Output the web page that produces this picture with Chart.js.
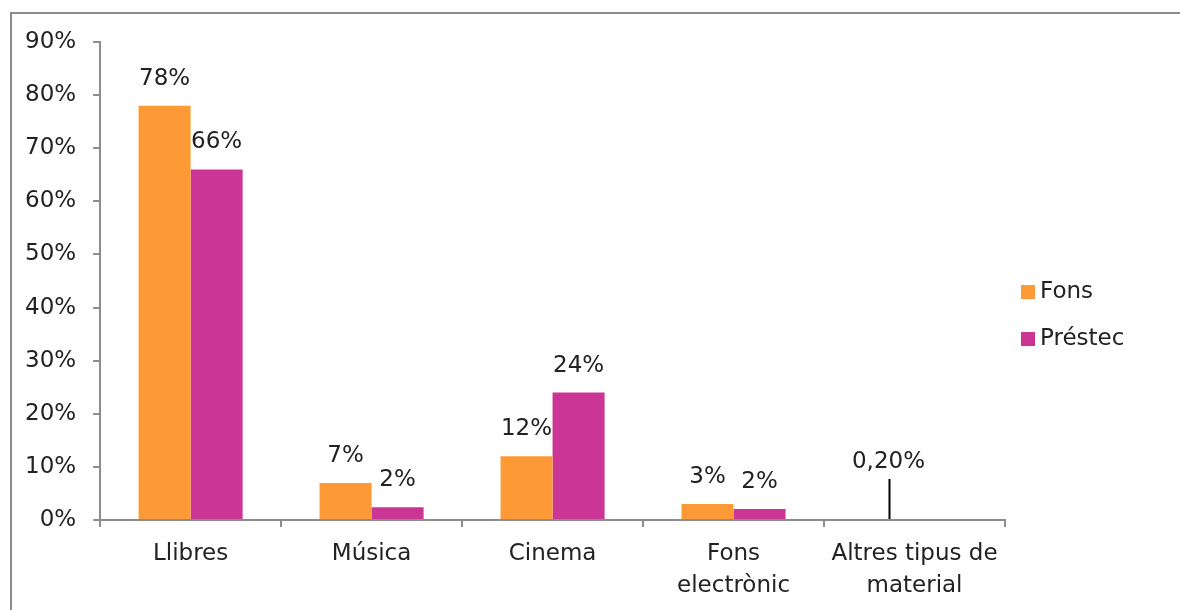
<!DOCTYPE html>
<html>
<head>
<meta charset="utf-8">
<script src="https://cdn.jsdelivr.net/npm/chart.js@4"></script>
<style>
  html, body { margin: 0; padding: 0; background: #fff; overflow: hidden; }
  #wrap { position: relative; width: 1180px; height: 610px; }
  #frame { position: absolute; left: 10px; top: 12px; width: 1200px; height: 700px; border: 2px solid #8c8c8c; box-sizing: border-box; }
  #chart { position: absolute; left: 0; top: 0; }
</style>
</head>
<body>
<div id="wrap">
  <div id="frame"></div>
  <canvas id="chart" width="1180" height="610"></canvas>
</div>
<script>
const categories = [['Llibres'], ['Música'], ['Cinema'], ['Fons', 'electrònic'], ['Altres tipus de', 'material']];
const fons = [78, 7, 12, 3, 0.2];
const prestec = [66, 2.4, 24, 2.1, null];
const fonsText = ['78%', '7%', '12%', '3%', '0,20%'];
const prestecText = ['66%', '2%', '24%', '2%', ''];
const yTicks = [0, 10, 20, 30, 40, 50, 60, 70, 80, 90];

const FONT = '"DejaVu Sans", sans-serif';
const TEXT = '#222';
const AXIS = '#8c8c8c';

// data labels above the bars (leader line for the tiny one) + legend on the right
const barLabels = {
    id: 'barLabels',
    afterDatasetsDraw(chart) {
        const ctx = chart.ctx;
        const texts = [fonsText, prestecText];
        ctx.save();
        ctx.font = '23px ' + FONT;
        ctx.fillStyle = TEXT;
        ctx.textAlign = 'center';
        ctx.textBaseline = 'middle';
        chart.data.datasets.forEach((ds, i) => {
            chart.getDatasetMeta(i).data.forEach((bar, j) => {
                const t = texts[i][j];
                if (!t || ds.data[j] == null) return;
                if (ds.data[j] < 1) {
                    ctx.fillText(t, bar.x, bar.y - 57);
                    ctx.strokeStyle = '#000';
                    ctx.lineWidth = 2;
                    ctx.beginPath();
                    ctx.moveTo(bar.x + 1, bar.y - 40);
                    ctx.lineTo(bar.x + 1, bar.y);
                    ctx.stroke();
                } else {
                    ctx.fillText(t, bar.x, bar.y - 27);
                }
            });
        });

        // legend
        const area = chart.chartArea;
        const lx = area.right + 16;
        let ly = (area.top + area.bottom) / 2 + 11;
        ctx.textAlign = 'left';
        chart.data.datasets.forEach(ds => {
            ctx.fillStyle = ds.backgroundColor;
            ctx.fillRect(lx, ly - 7, 14, 14);
            ctx.fillStyle = TEXT;
            ctx.fillText(ds.label, lx + 19, ly);
            ly += 47;
        });
        ctx.restore();
    }
};

new Chart(document.getElementById('chart'), {
    type: 'bar',
    data: {
        labels: categories,
        datasets: [
            { label: 'Fons', data: fons, backgroundColor: '#fd9a36' },
            { label: 'Préstec', data: prestec, backgroundColor: '#cb3595' }
        ]
    },
    options: {
        responsive: false,
        animation: false,
        layout: { padding: { top: 42, right: 175, bottom: -3, left: 8 } },
        datasets: { bar: { categoryPercentage: 0.575, barPercentage: 1 } },
        plugins: {
            legend: { display: false },
            tooltip: { enabled: false }
        },
        scales: {
            x: {
                grid: { display: true, drawOnChartArea: false, color: AXIS, lineWidth: 2, tickLength: 7 },
                border: { color: AXIS, width: 2 },
                ticks: { color: TEXT, font: { family: FONT, size: 23, lineHeight: 1.39 }, padding: 11, maxRotation: 0 }
            },
            y: {
                min: 0, max: 90,
                afterBuildTicks: axis => { axis.ticks = yTicks.map(v => ({ value: v })); },
                grid: { display: true, drawOnChartArea: false, color: AXIS, lineWidth: 2, tickLength: 7 },
                border: { color: AXIS, width: 2 },
                ticks: { color: TEXT, font: { family: FONT, size: 23 }, padding: 17, callback: v => v + '%' }
            }
        }
    },
    plugins: [barLabels]
});
</script>
</body>
</html>
